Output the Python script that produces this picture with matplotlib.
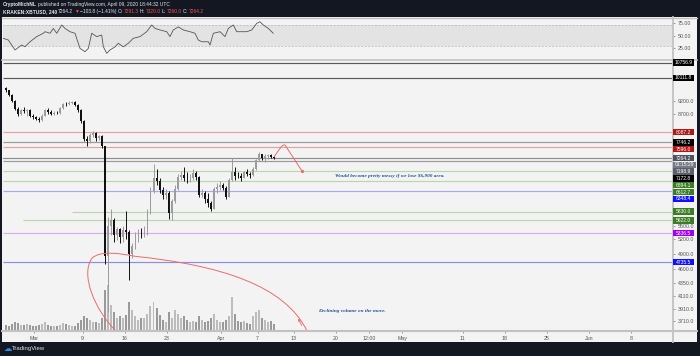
import numpy as np
import matplotlib.pyplot as plt
from matplotlib.patches import Rectangle, PathPatch
from matplotlib.path import Path
from matplotlib.lines import Line2D
from matplotlib.ticker import NullLocator

plt.rcParams['font.family'] = ['Liberation Sans', 'DejaVu Sans']

# ---- data -------------------------------------------------------------
# 12h candles, time in days since 2020-03-01 00:00 UTC
candle_start = -5.0
candle_step = 0.5
first_open = 9700

highs = [
    9750, 9620, 9450, 9230, 8950, 8880, 8950, 8900, 8880, 8700,
    8650, 8600, 8700, 8900, 8920, 8840, 8800, 8820, 8950, 9120,
    9150, 9170, 9200, 9190, 9080, 8880, 8480, 7950, 8050, 8120,
    8080, 7980, 8000, 7650, 5700, 5900, 5680, 5480, 5450, 5500,
    5850, 5400, 5120, 5350, 5420, 5450, 5500, 5900, 6450, 7100,
    6950, 6700, 6450, 6400, 6350, 6150, 6500, 6800, 6900, 7000,
    6850, 6800, 6950, 6880, 6750, 6400, 6350, 6300, 6100, 6450,
    6550, 6600, 6550, 6480, 6700, 7280, 7000, 6850, 6820, 6900,
    6950, 6850, 7000, 7250, 7460, 7400, 7380, 7400, 7380, 7320,
]
lows = [
    9550, 9380, 9150, 8850, 8650, 8680, 8760, 8650, 8600, 8520,
    8480, 8420, 8460, 8620, 8720, 8680, 8660, 8700, 8720, 8900,
    9000, 9020, 9080, 9000, 8780, 8380, 7780, 7650, 7740, 7920,
    7800, 7840, 7560, 4700, 3850, 5300, 5150, 5180, 5120, 5150,
    5200, 4400, 4820, 5000, 5150, 5220, 5250, 5300, 5780, 6300,
    6500, 6300, 6150, 6150, 5650, 5620, 6050, 6380, 6650, 6600,
    6550, 6580, 6650, 6650, 6200, 6200, 6050, 5950, 5850, 5880,
    6300, 6380, 6380, 6150, 6180, 6620, 6650, 6680, 6600, 6680,
    6750, 6700, 6760, 6920, 7180, 7200, 7150, 7250, 7260, 7250,
]
closes = [
    9600, 9420, 9200, 8900, 8720, 8850, 8820, 8850, 8650, 8600,
    8540, 8500, 8650, 8850, 8780, 8720, 8760, 8740, 8920, 9080,
    9060, 9130, 9160, 9050, 8850, 8450, 7850, 7780, 7980, 8040,
    7880, 7940, 7620, 4850, 5500, 5620, 5300, 5420, 5250, 5400,
    5350, 4900, 5050, 5280, 5330, 5320, 5350, 5800, 6340, 6700,
    6600, 6380, 6250, 6300, 5800, 6100, 6400, 6730, 6780, 6700,
    6680, 6700, 6840, 6720, 6250, 6300, 6150, 6050, 5900, 6400,
    6450, 6500, 6430, 6200, 6650, 6850, 6750, 6740, 6700, 6850,
    6800, 6780, 6950, 7200, 7380, 7280, 7320, 7350, 7300, 7264.2,
]
volumes = [
    5, 4, 6, 8, 7, 5, 5, 6, 5, 4,
    4, 5, 6, 8, 5, 4, 4, 4, 5, 7,
    6, 5, 4, 4, 7, 10, 14, 12, 10, 8,
    8, 7, 12, 40, 45, 25, 18, 12, 14, 12,
    15, 28, 20, 14, 10, 12, 12, 16, 24, 28,
    22, 15, 10, 8, 18, 12, 20, 16, 12, 14,
    10, 8, 9, 8, 14, 10, 8, 9, 12, 16,
    10, 8, 8, 10, 14, 33, 16, 9, 8, 9,
    7, 6, 14, 18, 20, 12, 10, 8, 9, 6,
]

rsi_days = [-5.16, -4.33, -3.22, -2.11, -1.56, -0.73, 0.38, 1.48, 1.76, 2.59,
            3.13, 3.70, 4.53, 5.07, 5.90, 6.73, 7.56, 8.39, 8.94, 9.50,
            10.33, 11.16, 11.43, 11.99, 12.54, 13.37, 13.91, 14.74, 15.57, 16.40,
            17.51, 18.62, 19.45, 20.00, 20.83, 21.94, 22.49, 23.03, 23.86, 24.69,
            25.80, 26.63, 27.18, 27.74, 28.84, 29.12, 29.67, 30.78, 31.61, 32.16,
            32.99, 33.55, 35.21, 36.04, 36.87, 37.41, 37.96, 38.79, 39.35, 39.62]
rsi_values = [44.7, 41.4, 21.9, 31.6, 28.3, 38.0, 48.0, 54.5, 57.6, 54.5,
              64.0, 54.5, 70.7, 64.0, 57.6, 54.5, 25.0, 18.6, 25.0, 54.5,
              48.0, 51.0, 28.3, 15.4, 22.0, 28.0, 35.0, 28.0, 35.0, 44.7,
              48.0, 57.6, 70.7, 64.0, 61.0, 57.6, 48.0, 61.0, 67.0, 61.0,
              57.6, 54.5, 41.4, 38.0, 38.0, 31.6, 54.5, 57.6, 48.0, 64.0,
              70.7, 57.6, 57.6, 61.0, 74.0, 77.0, 70.7, 64.0, 57.6, 54.5]

levels = [10756.9, 10111.8, 8087.2, 7746.2, 7596.0, 7172.8, 6894.1,
          6612.7, 6348.4, 5830.0, 5622.0, 5336.5, 4735.5]
level_line_colors = ['#5a5a5a', '#5a5a5a', '#e3a3a3', '#9a9a9a', '#e3a3a3',
                     '#9a9a9a', '#b9d7ad', '#b9d7ad', '#a8a8f2', '#b9d7ad',
                     '#b9d7ad', '#dcaaf0', '#8c8cf2']
level_label_colors = ['#000000', '#000000', '#b01818', '#000000', '#b01818',
                      '#000000', '#3a7d22', '#3a7d22', '#1010ff', '#3a7d22',
                      '#3a7d22', '#a000f0', '#1010ff']
level_starts = [None, None, None, None, None, None, None,
                None, None, 6.2, -1.9, None, None]
extra_label = 7198.9
last_price = 7264.2
countdown = '01:15:29'

# scale labels not covered by the level tags
price_ticks = [9200, 8700, 5500, 5200, 4900, 4600, 4350, 4110, 3910, 3710]
rsi_ticks = [25, 50, 75]
x_tick_days = [0, 8, 15, 22, 31, 37, 43, 50, 55.5, 61, 71, 78, 85, 92, 99]
x_tick_labels = ['Mar', '9', '16', '23', 'Apr', '7', '13', '20', '12:00',
                 'May', '11', '18', '25', 'Jun', '8']

# user drawings (days, price)
arc_days = [13.53, 10.05, 7.56, 9.55, 10.88, 14.2, 16.68, 30.78, 41.53, 45.22]
arc_prices = [3565, 3882, 4496, 4811, 4970, 4909, 4849, 4675, 4305, 3565]
path_days = [39.73, 40.56, 41.06, 41.56, 44.33]
path_prices = [7296, 7510, 7697, 7666, 6900]

# ---- figure -------------------------------------------------------------
W, H = 700, 356
DARK = '#131722'
PANEL = '#f3f3f3'
GRID = '#c2c2c2'
fig = plt.figure(figsize=(W / 100, H / 100), dpi=100, facecolor=DARK)


def box(x0, y0, x1, y1):
    return [x0 / W, 1 - y1 / H, (x1 - x0) / W, (y1 - y0) / H]


fig.add_artist(Rectangle((2 / W, 1 - 342 / H), 695 / W, 325 / H,
                         transform=fig.transFigure, fc=PANEL, ec='none', zorder=-10))

ax_rsi = fig.add_axes(box(3, 17, 672, 59))
axv = fig.add_axes(box(3, 60, 672, 330), sharex=ax_rsi)
ax = fig.add_axes(box(3, 60, 672, 330), sharex=ax_rsi)
for a in (ax_rsi, axv, ax):
    a.set_facecolor('none')
    for s in a.spines.values():
        s.set_visible(False)
ax.set_xlim(-5.21, 105.74)

n = len(closes)
t = candle_start + candle_step * np.arange(n) + candle_step / 2
c = np.array(closes, dtype=float)
o = np.concatenate([[first_open], c[:-1]])
hi = np.array(highs, dtype=float)
lo = np.array(lows, dtype=float)
up = c >= o

# volume
axv.bar(t, volumes, width=0.33, color=np.where(up, '#bcbcbc', '#9a9a9a'), lw=0)
axv.set_ylim(0, 270)
axv.set_yticks([])
axv.tick_params(axis='x', bottom=False, labelbottom=False)

# price
ax.set_yscale('log')
ax.set_ylim(3580.6, 10876)
for p, col, st in zip(levels, level_line_colors, level_starts):
    x0 = -5.21 if st is None else st
    ax.hlines(p, x0, 105.74, color=col, lw=0.85, zorder=1)
ax.axhline(last_price, color='#8c8c8c', lw=0.85, zorder=1)

wick_col = np.where(up, '#9c9c9c', '#111111')
ax.vlines(t, lo, hi, colors=wick_col, lw=0.7, zorder=3)
ax.bar(t, np.abs(c - o), bottom=np.minimum(o, c), width=0.3,
       color=np.where(up, '#9c9c9c', '#111111'), lw=0, zorder=3)

# drawings
red = '#ef6a6a'
arc_codes = [Path.MOVETO] + [Path.CURVE4] * 9
ax.add_patch(PathPatch(Path(list(zip(arc_days, arc_prices)), arc_codes),
                       fc='none', ec=red, lw=0.7, zorder=4))
pcodes = [Path.MOVETO, Path.CURVE4, Path.CURVE4, Path.CURVE4, Path.LINETO]
ax.add_patch(PathPatch(Path(list(zip(path_days, path_prices)), pcodes),
                       fc='none', ec=red, lw=0.7, zorder=4))
ax.plot(path_days[-1], path_prices[-1], 'o', ms=1.3, color=red, zorder=4)
ax.annotate('', xy=(43.55, 3793), xytext=(44.54, 3610),
            arrowprops=dict(arrowstyle='->', color=red, lw=0.6,
                            mutation_scale=4), zorder=4)
ax.text(58.97, 6750, 'Would become pretty messy if we lose \\$6,900 area.',
        ha='center', va='center', fontsize=3.8, color='#1f4e9c',
        family='Liberation Serif', style='italic', weight='bold')
ax.text(47.03, 3866, 'Declining volume on the move.', ha='left', va='center',
        fontsize=3.8, color='#1f4e9c', family='Liberation Serif',
        style='italic', weight='bold')

ax.yaxis.tick_right()
ax.set_yticks(price_ticks)
ax.set_yticklabels([f'{v:.1f}' for v in price_ticks])
ax.yaxis.set_minor_locator(NullLocator())
ax.tick_params(axis='y', which='both', length=2.5, width=0.6, colors='#8a8a8a',
               labelcolor='#555555', labelsize=3.8, pad=1.5)
ax.set_xticks(x_tick_days)
ax.set_xticklabels(x_tick_labels)
ax.tick_params(axis='x', length=2, width=0.6, colors='#8a8a8a',
               labelcolor='#555555', labelsize=3.8, pad=2.5)

# RSI pane
ax_rsi.axhspan(30, 70, color='#e3e3e3', lw=0)
for lvl in (30, 70):
    ax_rsi.axhline(lvl, color='#b5b5b5', lw=0.5, ls=(0, (3, 2)))
ax_rsi.plot(rsi_days, rsi_values, color='#555555', lw=0.6)
ax_rsi.set_ylim(4.3, 86.3)
ax_rsi.yaxis.tick_right()
ax_rsi.set_yticks(rsi_ticks)
ax_rsi.set_yticklabels([f'{v:.2f}' for v in rsi_ticks])
ax_rsi.tick_params(axis='y', length=2.5, width=0.6, colors='#8a8a8a',
                   labelcolor='#555555', labelsize=3.8, pad=1.5)
ax_rsi.tick_params(axis='x', bottom=False, labelbottom=False)

# separators
for xs, ys, lw in [((672.5, 672.5), (17, 342), 1.3),
                   ((2, 697), (330.5, 330.5), 1.5),
                   ((2, 697), (59.5, 59.5), 1.2),
                   ((2, 697), (17.5, 17.5), 1.0)]:
    fig.add_artist(Line2D([x / W for x in xs], [1 - y / H for y in ys],
                          transform=fig.transFigure, color=GRID, lw=lw))

# price-scale labels, pushed apart like the platform does
def price_px(p):
    return H - ax.transData.transform((0, p))[1]


items = [(p, f'{p:.1f}', col) for p, col in zip(levels, level_label_colors)]
items.append((extra_label, f'{extra_label:.1f}', '#5c5f6a'))
items.append((last_price, f'{last_price:.1f}', '#50535e'))
items.sort(key=lambda it: -it[0])
k = [it[1] for it in items].index(f'{last_price:.1f}')
items.insert(k + 1, (last_price, countdown, '#767a86'))
prev = -1e9
for p, txt, col in items:
    y = max(price_px(p), prev + 6.8)
    prev = y
    wd = 23 if txt == countdown else 21
    fig.add_artist(Rectangle((673 / W, 1 - (y + 3.2) / H), wd / W, 6.4 / H,
                             transform=fig.transFigure, fc=col, ec='none', zorder=5))
    fig.text((673 + wd / 2) / W, 1 - y / H, txt, ha='center', va='center',
             fontsize=3.6, color='white', zorder=6)

# header
renderer = fig.canvas.get_renderer()


def chain(x, y, parts):
    for s, col, w in parts:
        tx = fig.text(x / W, 1 - y / H, s, color=col, fontsize=3.5, weight=w,
                      ha='left', va='center')
        x += tx.get_window_extent(renderer=renderer).width + 1.0


WHITE = '#e6e6e6'
HRED = '#f05350'
chain(3, 4.8, [('CryptoMichNL', WHITE, 'bold'),
               ('published on TradingView.com, April 09, 2020 18:44:32 UTC', WHITE, 'normal')])
chain(3, 11.5, [('KRAKEN:XBTUSD, 240', WHITE, 'bold'), ('7264.2', WHITE, 'normal'),
                ('\u25bc', HRED, 'normal'), ('\u2212103.8 (\u22121.41%)', WHITE, 'normal'),
                ('O:', WHITE, 'normal'), ('7291.3', HRED, 'normal'),
                ('H:', WHITE, 'normal'), ('7320.0', HRED, 'normal'),
                ('L:', WHITE, 'normal'), ('7260.0', HRED, 'normal'),
                ('C:', WHITE, 'normal'), ('7264.2', HRED, 'normal')])

# footer
fig.text(4 / W, 1 - 348.5 / H, '\u2601', color='#2a8cf0', fontsize=6,
         family='DejaVu Sans', ha='left', va='center')
fig.text(12 / W, 1 - 348.5 / H, 'TradingView', color=WHITE, fontsize=4.3,
         ha='left', va='center')

fig.savefig('out.png', dpi=100, facecolor=DARK)
